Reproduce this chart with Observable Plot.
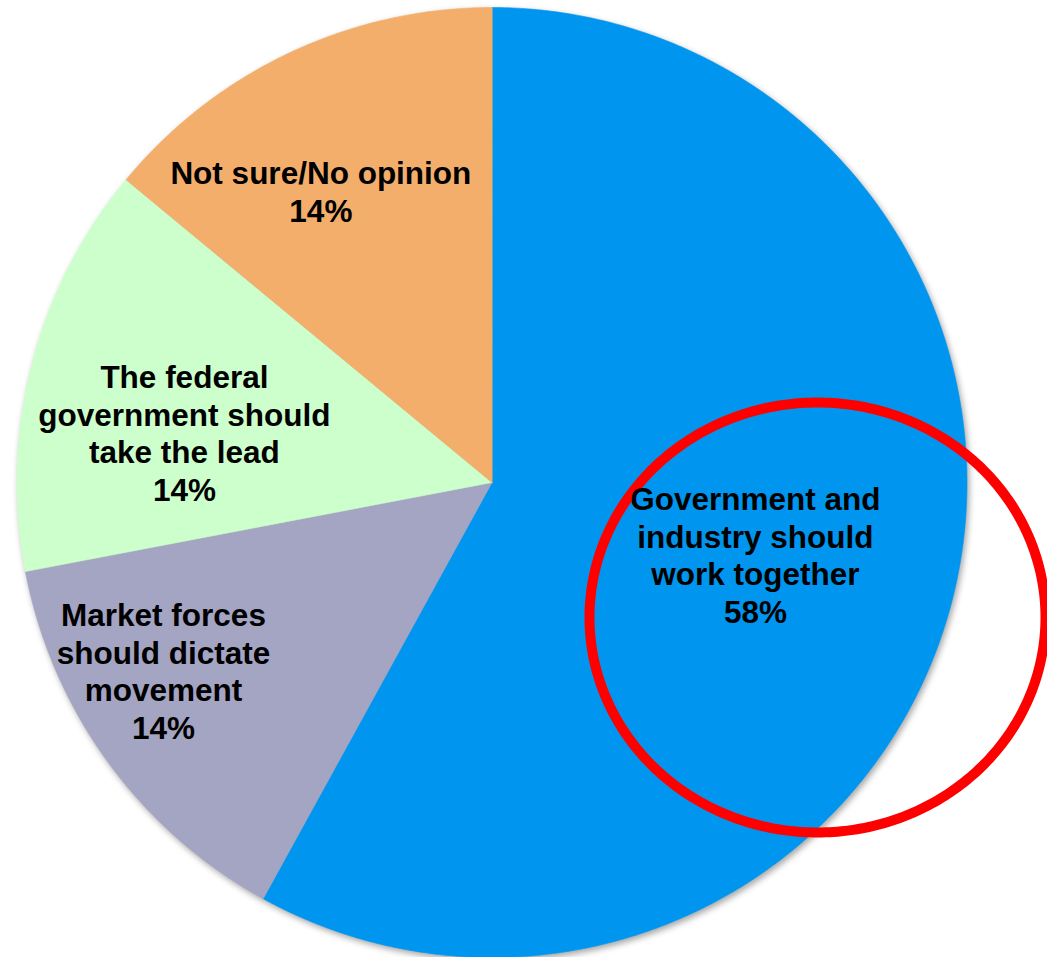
<!DOCTYPE html>
<html>
<head>
<meta charset="utf-8">
<script src="https://cdn.jsdelivr.net/npm/d3@7"></script>
<script src="https://cdn.jsdelivr.net/npm/@observablehq/plot@0.6"></script>
<style>
  html, body { margin: 0; padding: 0; background: #ffffff; }
  #chart { width: 1047px; height: 957px; overflow: hidden; }
</style>
</head>
<body>
<div id="chart"></div>
<script>
// ---- Data ----
const categories = [
  "Government and industry should work together",
  "Market forces should dictate movement",
  "The federal government should take the lead",
  "Not sure/No opinion"
];
const values = [58, 14, 14, 14];
const labelLines = [
  ["Government and", "industry should", "work together"],
  ["Market forces", "should dictate", "movement"],
  ["The federal", "government should", "take the lead"],
  ["Not sure/No opinion"]
];

// ---- Styles / layout (kept apart from the data) ----
const colors = ["#0096F0", "#A4A4C3", "#CCFFCC", "#F3AE6C"];
const W = 1047, H = 957;
const R = 475;                     // pie radius (px)
const center = { x: 491.5, y: 482 };
// label placement: fraction of radius and angle (degrees clockwise from 12 o'clock)
const labelPlace = [
  { r: 0.575, a: 105.3 },
  { r: 0.797, a: 240.2 },
  { r: 0.656, a: 279.2 },
  { r: 0.712, a: 329.6 }
];
// highlight ellipse (px, in the chart frame)
const ring = { cx: 817, cy: 617, rx: 228, ry: 215, width: 10 };

// ---- Build geometry ----
const pie = d3.pie().sort(null).value(d => d)(values);
const slicePts = [];
pie.forEach((p, i) => {
  const cat = categories[i];
  slicePts.push({ cat, x: 0, y: 0 });
  const n = Math.max(8, Math.ceil((p.endAngle - p.startAngle) / (Math.PI / 360)));
  for (let k = 0; k <= n; k++) {
    const a = p.startAngle + (p.endAngle - p.startAngle) * k / n;
    slicePts.push({ cat, x: R * Math.sin(a), y: R * Math.cos(a) });
  }
});

const labels = categories.map((cat, i) => {
  const a = labelPlace[i].a * Math.PI / 180;
  const r = labelPlace[i].r * R;
  return {
    cat,
    text: [...labelLines[i], values[i] + "%"].join("\n"),
    x: r * Math.sin(a),
    y: r * Math.cos(a)
  };
});

const ringPts = d3.range(0, 360, 1).map(t => {
  const a = t * Math.PI / 180;
  return {
    x: (ring.cx - center.x) + ring.rx * Math.cos(a),
    y: (center.y - ring.cy) + ring.ry * Math.sin(a)
  };
});

const chart = Plot.plot({
  width: W,
  height: H,
  margin: 0,
  style: { background: "#ffffff", overflow: "hidden" },
  x: { domain: [-center.x, W - center.x], range: [0, W], axis: null },
  y: { domain: [-(H - center.y), center.y], range: [H, 0], axis: null },
  color: { domain: categories, range: colors },
  marks: [
    Plot.line(slicePts, {
      x: "x", y: "y", z: "cat", fill: "cat", stroke: "cat", strokeWidth: 0.6,
      curve: "linear-closed"
    }),
    Plot.line(ringPts, {
      x: "x", y: "y", stroke: "#FF0000", strokeWidth: ring.width, curve: "linear-closed"
    }),
    Plot.text(labels, {
      x: "x", y: "y", text: "text",
      fontFamily: "'Liberation Sans', Arial, sans-serif",
      fontWeight: "bold", fontSize: 31.5, lineHeight: 1.19,
      fill: "#000000", textAnchor: "middle", lineAnchor: "middle"
    })
  ]
});

d3.select(chart).select('g[aria-label="line"]')
  .style("filter", "drop-shadow(2px 3px 3px rgba(0,0,0,0.35))");

document.getElementById("chart").appendChild(chart);
</script>
</body>
</html>
